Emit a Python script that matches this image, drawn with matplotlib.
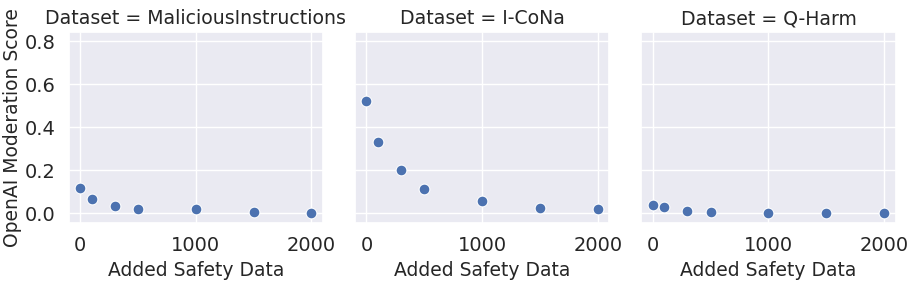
import numpy as np
import pandas as pd
import seaborn as sns
from matplotlib import pyplot as plt

datasets = ['MaliciousInstructions', 'I-CoNa', 'Q-Harm']
added = [0, 100, 300, 500, 1000, 1500, 2000]
malicious = [0.116, 0.066, 0.032, 0.017, 0.019, 0.003, 0.001]
icona = [0.52, 0.33, 0.20, 0.111, 0.054, 0.023, 0.019]
qharm = [0.039, 0.029, 0.009, 0.006, 0.001, 0.001, 0.001]

scores = [malicious, icona, qharm]

sns.set_theme(style='darkgrid', font_scale=1.3)

fig, axes = plt.subplots(1, 3, figsize=(9.14, 2.82), dpi=100, sharey=True)
fig.subplots_adjust(left=0.075, right=0.98, top=0.885, bottom=0.21, wspace=0.125)

for ax, name, vals in zip(axes, datasets, scores):
    df = pd.DataFrame({'Added Safety Data': added, 'OpenAI Moderation Score': vals})
    sns.scatterplot(data=df, x='Added Safety Data', y='OpenAI Moderation Score',
                    ax=ax, s=60, color='#4c72b0', edgecolor='white', linewidth=0.75)
    ax.set_title('Dataset = ' + name, fontsize=13.6)
    ax.set_xlabel('Added Safety Data', fontsize=13.5)
    ax.set_ylabel('OpenAI Moderation Score', fontsize=13.5, labelpad=2)
    ax.tick_params(labelsize=14)
    ax.set_xticks([0, 1000, 2000])
    ax.set_yticks([0.0, 0.2, 0.4, 0.6, 0.8])
    ax.set_ylim(-0.045, 0.84)
    ax.set_xlim(-100, 2100)
    if ax is not axes[0]:
        ax.set_ylabel('')

plt.savefig('out.png', dpi=100)
